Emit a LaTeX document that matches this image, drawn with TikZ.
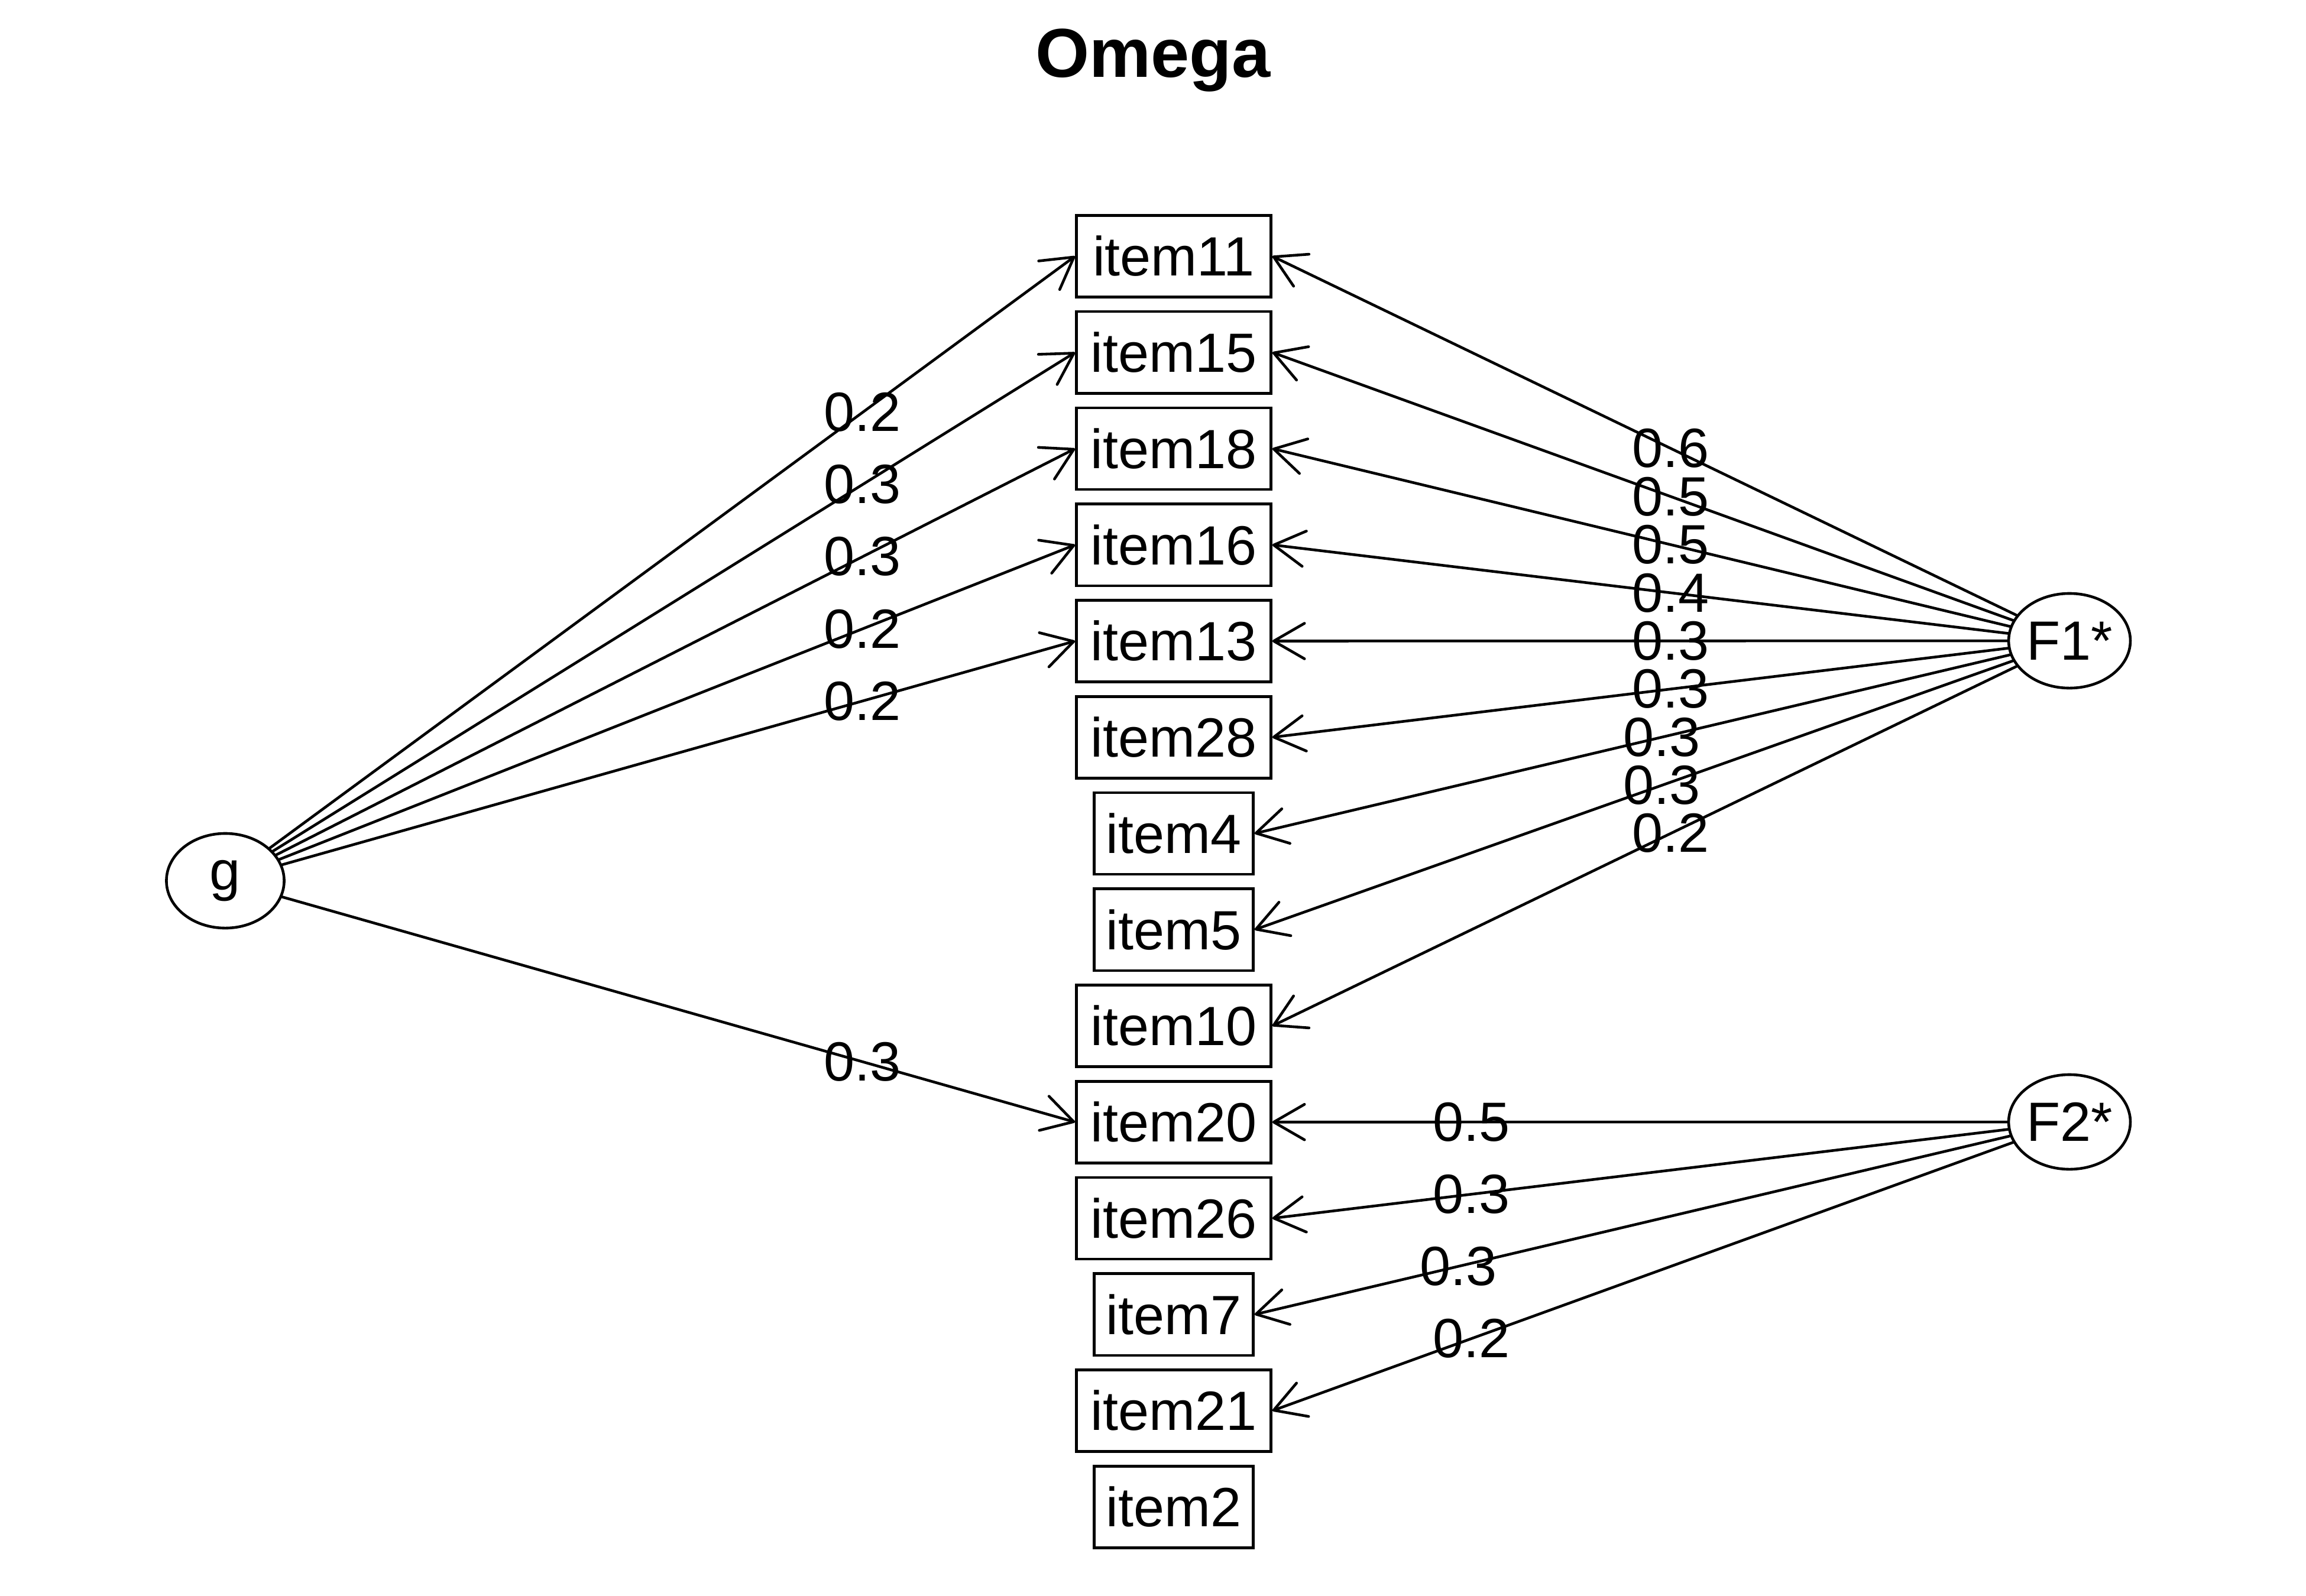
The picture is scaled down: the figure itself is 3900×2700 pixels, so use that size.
\documentclass[tikz,border=0pt]{standalone}
\usepackage{fontspec}
\setmainfont{Liberation Sans}
\usetikzlibrary{arrows.meta,shapes.geometric,calc}

\begin{document}
\begin{tikzpicture}[x=0.01cm,y=-0.01cm,
  txt/.style={font=\fontsize{26.6pt}{30pt}\selectfont},
  itembox/.style={txt,draw,line width=1.3pt,rectangle,inner sep=0pt,
                  minimum height=1.38cm,minimum width=3.29cm},
  itemboxs/.style={itembox,minimum width=2.69cm},
  latent/.style={txt,draw,line width=1.3pt,ellipse,inner sep=0pt,
                 minimum width=1.99cm,minimum height=1.60cm},
  link/.style={line width=1.3pt,line cap=round,
               -{Straight Barb[length=5.2mm,width=6mm,round]}},
  lbl/.style={txt,inner sep=0pt,anchor=center}]

\useasboundingbox (0,0) rectangle (3900,2700);

% title
\node[font=\fontsize{33.3pt}{38pt}\selectfont\bfseries,anchor=base,inner sep=0pt]
  (title) at (1950,130) {Omega};

% observed items, one column
\foreach \n/\i/\s in {item11/0/itembox, item15/1/itembox, item18/2/itembox,
    item16/3/itembox, item13/4/itembox, item28/5/itembox, item4/6/itemboxs,
    item5/7/itemboxs, item10/8/itembox, item20/9/itembox, item26/10/itembox,
    item7/11/itemboxs, item21/12/itembox, item2/13/itemboxs}
  \node[\s] (\n) at (1985,{433.5+\i*162.75}) {\n};

% latent factors
\node[latent] (g)  at (381,1490)  {g};
\node[latent] (F1) at (3500,1084) {F1*};
\node[latent] (F2) at (3500,1898) {F2*};

% general factor loadings
\foreach \n/\v in {item11/0.2, item15/0.3, item18/0.3, item16/0.2,
                   item13/0.2, item20/0.3} {
  \draw[link] (g) -- (\n.west);
  \node[lbl] at ($(g.center)!0.75!(\n.west)$) {\v};
}

% group factor F1* loadings
\foreach \n/\v in {item11/0.6, item15/0.5, item18/0.5, item16/0.4,
                   item13/0.3, item28/0.3, item4/0.3, item5/0.3, item10/0.2} {
  \draw[link] (F1) -- (\n.east);
  \node[lbl] at ($(F1.center)!0.5!(\n.east)$) {\v};
}

% group factor F2* loadings
\foreach \n/\v in {item20/0.5, item26/0.3, item7/0.3, item21/0.2} {
  \draw[link] (F2) -- (\n.east);
  \node[lbl] at ($(F2.center)!0.75!(\n.east)$) {\v};
}
\end{tikzpicture}
\end{document}
